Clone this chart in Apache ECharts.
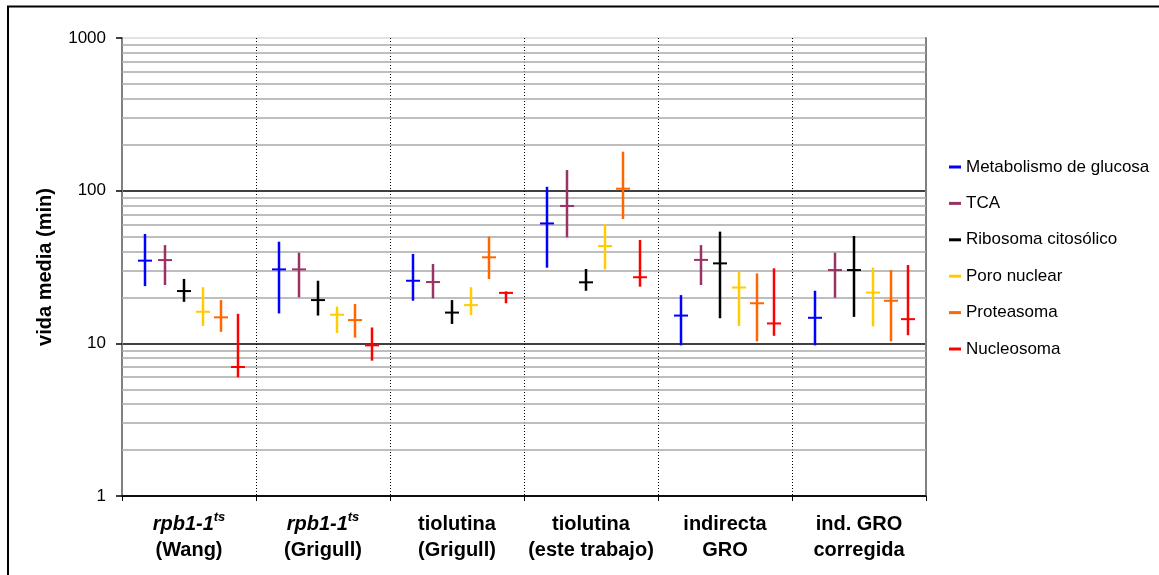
<!DOCTYPE html>
<html>
<head>
<meta charset="utf-8">
<script src="https://cdn.jsdelivr.net/npm/echarts@6/dist/echarts.min.js"></script>
<style>
  html, body { margin: 0; padding: 0; background: #fff; }
  #chart { width: 1159px; height: 575px; }
</style>
</head>
<body>
<div id="chart"></div>
<script>
// Groups of half-life estimates (x axis)
const categories = [
  'rpb1-1ts\n(Wang)',
  'rpb1-1ts\n(Grigull)',
  'tiolutina\n(Grigull)',
  'tiolutina\n(este trabajo)',
  'indirecta\nGRO',
  'ind. GRO\ncorregida'
];

// Functional classes (one series each)
const seriesNames = [
  'Metabolismo de glucosa', 'TCA', 'Ribosoma citosólico',
  'Poro nuclear', 'Proteasoma', 'Nucleosoma'
];
const seriesColors = ['#0000FF', '#993366', '#000000', '#FFCC00', '#FF6600', '#FF0000'];

// Half-life in minutes: lower end, central value, upper end of each range
const glucosaLow  = [23.7, 15.7, 19.0, 31.3, 9.7, 9.7];
const glucosaMid  = [34.8, 30.5, 25.7, 61.0, 15.2, 14.7];
const glucosaHigh = [52.0, 46.3, 38.5, 106.0, 20.7, 22.1];

const tcaLow  = [24.1, 20.0, 19.7, 49.5, 24.1, 19.9];
const tcaMid  = [35.1, 30.5, 25.2, 79.4, 35.2, 30.2];
const tcaHigh = [44.0, 39.2, 33.1, 136.5, 44.0, 39.2];

const ribosomaLow  = [18.7, 15.2, 13.4, 22.1, 14.6, 14.9];
const ribosomaMid  = [22.0, 19.2, 15.9, 25.1, 33.4, 30.2];
const ribosomaHigh = [26.4, 25.7, 19.2, 30.7, 53.9, 50.5];

const poroLow  = [13.0, 11.7, 15.3, 30.5, 13.0, 12.9];
const poroMid  = [16.1, 15.4, 17.8, 43.4, 23.2, 21.5];
const poroHigh = [23.3, 17.4, 23.3, 60.2, 29.8, 31.3];

const proteasomaLow  = [11.9, 10.9, 26.4, 65.2, 10.3, 10.3];
const proteasomaMid  = [14.8, 14.2, 36.6, 103.0, 18.3, 19.0];
const proteasomaHigh = [19.2, 18.1, 50.0, 180.0, 28.7, 30.2];

const nucleosomaLow  = [6.0, 7.7, 18.3, 23.5, 11.2, 11.3];
const nucleosomaMid  = [7.0, 9.7, 21.4, 27.1, 13.5, 14.4];
const nucleosomaHigh = [15.6, 12.7, 21.9, 47.5, 31.0, 32.6];

// Minor gridlines of the logarithmic axis
const minorTicks = [2, 3, 4, 5, 6, 7, 8, 9, 20, 30, 40, 50, 60, 70, 80, 90, 200, 300, 400, 500, 600, 700, 800, 900];

const ranges = [
  [glucosaLow, glucosaMid, glucosaHigh],
  [tcaLow, tcaMid, tcaHigh],
  [ribosomaLow, ribosomaMid, ribosomaHigh],
  [poroLow, poroMid, poroHigh],
  [proteasomaLow, proteasomaMid, proteasomaHigh],
  [nucleosomaLow, nucleosomaMid, nucleosomaHigh]
];

// Horizontal slot of each class inside its group (fraction of the band)
const slots = [0.169, 0.322, 0.466, 0.607, 0.740, 0.865];

function makeRenderer(k, color) {
  return function (params, api) {
    const cat = api.value(0);
    const c0 = api.coord([cat, 10]);
    const band = api.coord([1, 10])[0] - api.coord([0, 10])[0];
    const x = Math.round(c0[0] - band / 2 + band * slots[k]);
    const yLow = api.coord([cat, api.value(1)])[1];
    const yMid = api.coord([cat, api.value(2)])[1];
    const yHigh = api.coord([cat, api.value(3)])[1];
    const half = 7;
    return {
      type: 'group',
      children: [
        {
          type: 'line',
          shape: { x1: x, y1: yHigh, x2: x, y2: yLow },
          style: { stroke: color, lineWidth: 2.5 }
        },
        {
          type: 'line',
          shape: { x1: x - half, y1: yMid, x2: x + half, y2: yMid },
          style: { stroke: color, lineWidth: 2 }
        }
      ]
    };
  };
}

const rangeSeries = seriesNames.map(function (name, k) {
  const [lo, mid, hi] = ranges[k];
  return {
    name: name,
    type: 'custom',
    z: 10,
    color: seriesColors[k],
    itemStyle: { color: seriesColors[k] },
    renderItem: makeRenderer(k, seriesColors[k]),
    encode: { x: 0, y: [1, 2, 3] },
    data: categories.map(function (c, i) { return [i, lo[i], mid[i], hi[i]]; })
  };
});

const sans = "'Liberation Sans', Arial, sans-serif";

const gridSeries = {
  name: 'minor',
  type: 'line',
  data: [],
  silent: true,
  markLine: {
    silent: true,
    symbol: 'none',
    z: 1,
    animation: false,
    label: { show: false },
    lineStyle: { color: '#a8a8a8', width: 1.5, type: 'solid' },
    data: minorTicks.map(function (v) { return { yAxis: v }; })
  }
};

const chart = echarts.init(document.getElementById('chart'), null, { renderer: 'canvas' });
chart.setOption({
  animation: false,
  backgroundColor: '#ffffff',
  textStyle: { fontFamily: sans },
  graphic: [{
    type: 'rect',
    shape: { x: 8, y: 6.5, width: 1400, height: 800 },
    style: { fill: 'none', stroke: '#000', lineWidth: 2 },
    silent: true,
    z: 0
  }],
  grid: { left: 122, right: 233, top: 38, bottom: 79 },
  legend: {
    orient: 'vertical',
    left: 949,
    top: 158,
    padding: 0,
    itemGap: 18.4,
    itemWidth: 12,
    itemHeight: 3,
    selectedMode: false,
    textStyle: { fontSize: 17, lineHeight: 18, color: '#000', fontFamily: sans },
    data: seriesNames.map(function (n, k) {
      return { name: n, icon: 'rect', itemStyle: { color: seriesColors[k] } };
    })
  },
  xAxis: {
    type: 'category',
    data: categories,
    boundaryGap: true,
    axisLine: { lineStyle: { color: '#000', width: 1.5 } },
    axisTick: { show: true, interval: 0, length: 5, lineStyle: { color: '#000' } },
    splitLine: { show: true, interval: 0, lineStyle: { color: '#000', width: 1, type: [1, 2] } },
    axisLabel: {
      interval: 0,
      margin: 15,
      // gene names in italics with a superscript allele tag
      formatter: function (value) {
        return value.split('\n').map(function (line) {
          const m = line.match(/^(rpb1-1)(ts)$/);
          if (m) return '{it|' + m[1] + '}{sup|' + m[2] + '}';
          return '{b|' + line + '}';
        }).join('\n');
      },
      rich: {
        b: { fontFamily: sans, fontWeight: 'bold', fontSize: 20, lineHeight: 26, color: '#000' },
        it: { fontFamily: sans, fontWeight: 'bold', fontStyle: 'italic', fontSize: 20, lineHeight: 26, color: '#000' },
        sup: { fontFamily: sans, fontWeight: 'bold', fontStyle: 'italic', fontSize: 13, lineHeight: 14, verticalAlign: 'top', color: '#000' }
      }
    }
  },
  yAxis: [{
    type: 'log',
    logBase: 10,
    min: 1,
    max: 1000,
    name: 'vida media (min)',
    nameLocation: 'middle',
    nameRotate: 90,
    nameGap: 67,
    nameTextStyle: { fontSize: 20, fontWeight: 'bold', color: '#000', fontFamily: sans },
    axisLine: { show: true, lineStyle: { color: '#808080', width: 2 } },
    axisTick: { show: true, length: 6, lineStyle: { color: '#000', width: 1.5 } },
    axisLabel: {
      fontSize: 17, color: '#000', margin: 16, fontFamily: sans,
      formatter: function (v) { return String(Math.round(v)); }
    },
    splitLine: { show: true, lineStyle: { color: ['#000', '#000', '#000', '#d9d9d9'], width: 1.5 } }
  }, {
    type: 'value',
    position: 'right',
    min: 0,
    max: 1,
    axisLine: { show: true, lineStyle: { color: '#808080', width: 2 } },
    axisTick: { show: false },
    axisLabel: { show: false },
    splitLine: { show: false }
  }],
  series: [gridSeries].concat(rangeSeries)
});
</script>
</body>
</html>
